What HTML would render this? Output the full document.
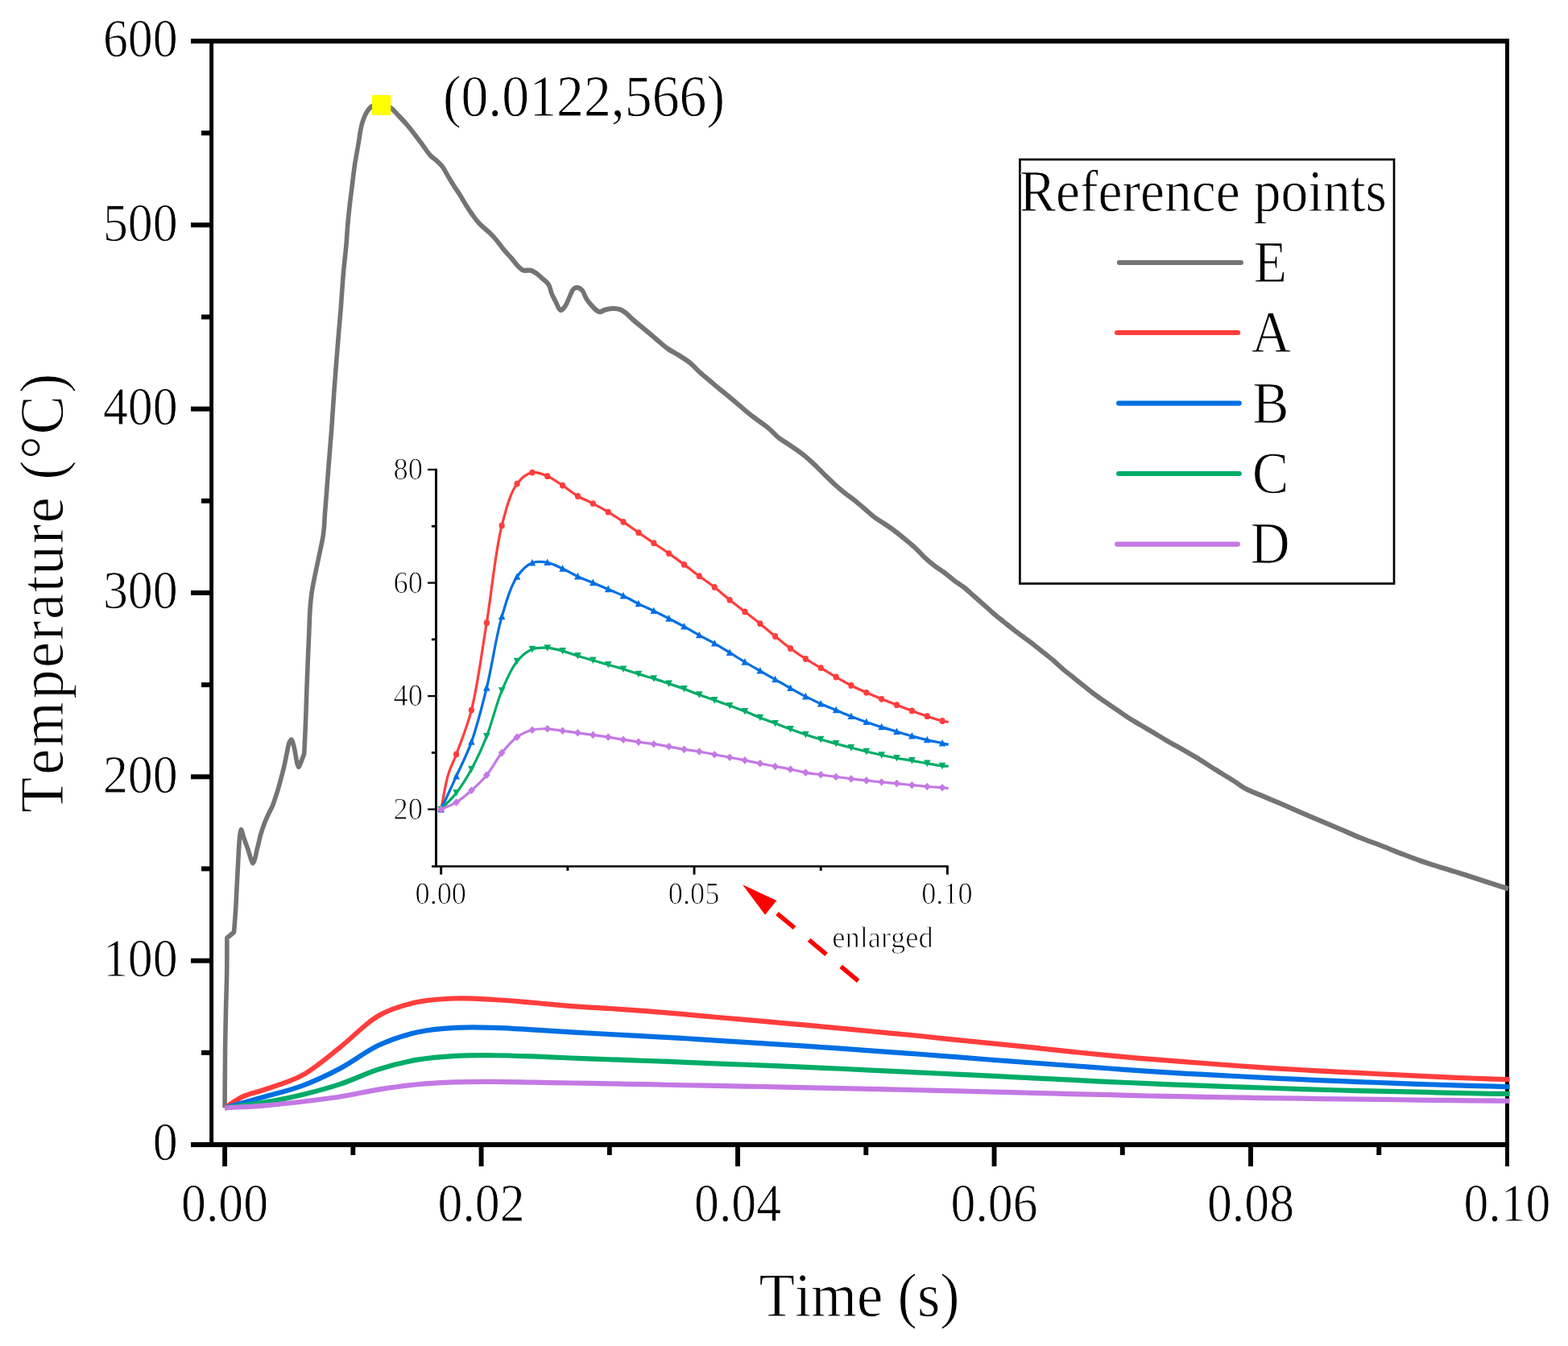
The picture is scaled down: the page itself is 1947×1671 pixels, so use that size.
<!DOCTYPE html>
<html lang="en">
<head>
<meta charset="utf-8">
<title>Temperature vs Time at reference points</title>
<style>html,body{margin:0;padding:0;background:#fff}svg{display:block}text{font-kerning:none;font-variant-ligatures:none;text-rendering:geometricPrecision;white-space:pre;stroke:#fff;stroke-width:.9px;stroke-linejoin:round}text.s{stroke-width:.5px}</style>
</head>
<body>
<svg xmlns="http://www.w3.org/2000/svg" width="1947" height="1671" viewBox="0 0 1947 1671" font-family='"Liberation Serif", "Noto Serif CJK SC", serif'>
<rect width="1947" height="1671" fill="#fff"/>
<rect x="237.00" y="48.00" width="1636.95" height="6.00" fill="#000"/>
<rect x="237.00" y="1418.00" width="1636.95" height="6.10" fill="#000"/>
<rect x="260.15" y="48.00" width="4.90" height="1376.00" fill="#000"/>
<rect x="1869.05" y="48.00" width="4.90" height="1400.00" fill="#000"/>
<rect x="237.00" y="1418.00" width="25.60" height="6.00" fill="#000"/>
<rect x="250.00" y="1303.83" width="12.60" height="6.00" fill="#000"/>
<rect x="237.00" y="1189.67" width="25.60" height="6.00" fill="#000"/>
<rect x="250.00" y="1075.50" width="12.60" height="6.00" fill="#000"/>
<rect x="237.00" y="961.33" width="25.60" height="6.00" fill="#000"/>
<rect x="250.00" y="847.17" width="12.60" height="6.00" fill="#000"/>
<rect x="237.00" y="733.00" width="25.60" height="6.00" fill="#000"/>
<rect x="250.00" y="618.83" width="12.60" height="6.00" fill="#000"/>
<rect x="237.00" y="504.67" width="25.60" height="6.00" fill="#000"/>
<rect x="250.00" y="390.50" width="12.60" height="6.00" fill="#000"/>
<rect x="237.00" y="276.33" width="25.60" height="6.00" fill="#000"/>
<rect x="250.00" y="162.17" width="12.60" height="6.00" fill="#000"/>
<rect x="237.00" y="48.00" width="25.60" height="6.00" fill="#000"/>
<rect x="276.15" y="1421.00" width="5.90" height="27.00" fill="#000"/>
<rect x="435.39" y="1421.00" width="5.90" height="13.00" fill="#000"/>
<rect x="594.63" y="1421.00" width="5.90" height="27.00" fill="#000"/>
<rect x="753.87" y="1421.00" width="5.90" height="13.00" fill="#000"/>
<rect x="913.11" y="1421.00" width="5.90" height="27.00" fill="#000"/>
<rect x="1072.35" y="1421.00" width="5.90" height="13.00" fill="#000"/>
<rect x="1231.59" y="1421.00" width="5.90" height="27.00" fill="#000"/>
<rect x="1390.83" y="1421.00" width="5.90" height="13.00" fill="#000"/>
<rect x="1550.07" y="1421.00" width="5.90" height="27.00" fill="#000"/>
<rect x="1709.31" y="1421.00" width="5.90" height="13.00" fill="#000"/>
<g transform="scale(0.9,1)" fill="none" stroke-width="6.2" stroke-linejoin="round">
<path d="M310.11,1375.30C310.30,1350.20 310.33,1322.54 310.67,1300.00C310.94,1281.63 311.37,1266.13 311.78,1250.00C312.16,1234.86 312.76,1220.45 313.00,1206.00C313.23,1191.97 313.15,1178.33 313.22,1164.50C316.41,1162.07 319.59,1159.63 322.78,1157.20C323.26,1152.07 323.78,1147.17 324.22,1141.80C324.71,1135.92 325.14,1129.91 325.56,1123.30C326.04,1115.66 326.43,1106.82 326.89,1098.60C327.35,1090.39 327.86,1081.99 328.33,1074.00C328.78,1066.41 329.17,1058.45 329.67,1051.80C330.07,1046.36 330.31,1040.96 331.00,1037.00C331.48,1034.27 332.01,1030.23 332.78,1030.20C333.75,1030.16 335.14,1036.99 336.56,1040.70C338.17,1044.93 340.29,1049.67 342.00,1054.20C343.70,1058.71 345.38,1064.73 346.78,1067.80C347.54,1069.47 348.15,1071.51 348.89,1071.50C349.73,1071.49 350.77,1068.62 351.56,1066.60C352.69,1063.70 353.38,1059.09 354.33,1055.50C355.24,1052.10 356.20,1048.90 357.11,1045.60C358.02,1042.30 358.62,1039.29 359.78,1035.70C361.21,1031.25 363.38,1025.51 365.33,1021.00C367.07,1017.00 368.92,1013.47 370.78,1009.90C372.55,1006.48 374.73,1003.23 376.22,1000.00C377.56,997.11 378.29,994.63 379.44,991.50C380.85,987.67 382.57,983.04 384.00,978.70C385.46,974.28 386.77,969.81 388.11,965.20C389.51,960.39 390.96,955.35 392.22,950.40C393.48,945.48 394.49,940.42 395.67,935.60C396.79,930.97 397.57,925.00 399.11,922.00C400.01,920.24 401.30,918.15 402.22,918.30C403.41,918.49 404.34,922.88 405.22,925.70C406.34,929.26 407.17,934.21 408.00,938.10C408.74,941.55 409.13,945.34 410.00,947.90C410.60,949.67 411.31,952.19 412.11,952.20C413.11,952.21 414.41,947.98 415.56,945.50C416.93,942.55 418.30,938.90 419.67,935.60C420.11,927.37 420.59,919.13 421.00,910.90C421.41,902.69 421.78,894.51 422.11,886.30C422.44,878.08 422.68,869.82 423.00,861.60C423.31,853.39 423.65,845.21 424.00,837.00C424.35,828.77 424.72,820.75 425.11,812.30C425.53,803.40 426.03,793.80 426.44,784.90C426.84,776.45 427.04,767.82 427.56,760.20C428.00,753.61 428.45,747.71 429.22,741.80C429.95,736.24 430.96,730.94 432.00,725.70C433.00,720.65 434.20,715.83 435.33,710.90C436.46,705.96 437.63,701.02 438.78,696.10C439.92,691.19 441.11,686.21 442.22,681.40C443.29,676.78 444.53,672.24 445.33,667.80C446.09,663.61 446.53,660.03 447.00,655.50C447.57,649.97 447.83,643.16 448.33,637.00C448.83,630.83 449.46,624.67 450.00,618.50C450.54,612.33 450.95,607.15 451.56,600.00C452.39,590.16 453.56,576.22 454.56,564.90C455.49,554.30 456.48,544.37 457.33,534.10C458.18,523.84 458.87,513.57 459.67,503.30C460.46,493.01 461.26,482.69 462.11,472.40C462.96,462.12 463.87,451.87 464.78,441.60C465.69,431.33 466.62,420.80 467.56,410.80C468.44,401.29 469.32,393.27 470.22,383.00C471.34,370.27 472.35,353.93 473.67,340.20C474.89,327.43 476.71,314.38 477.78,303.30C478.65,294.25 478.98,286.82 479.78,278.60C480.57,270.39 481.52,262.20 482.56,254.00C483.59,245.77 484.85,237.52 486.00,229.30C487.15,221.09 488.08,212.89 489.44,204.70C490.82,196.46 492.60,188.34 494.22,180.00C495.89,171.44 496.98,161.37 499.33,154.00C501.19,148.19 503.43,142.88 506.11,139.00C508.19,135.99 510.12,133.52 513.11,132.00C516.56,130.25 521.80,129.67 526.11,130.00C530.54,130.34 535.41,131.96 539.33,134.20C543.26,136.43 546.21,140.20 549.67,143.40C553.28,146.75 556.98,150.19 560.56,153.90C564.29,157.77 567.93,162.01 571.56,166.20C575.23,170.44 578.82,174.81 582.44,179.20C586.12,183.65 589.84,189.22 593.44,192.70C596.22,195.37 598.97,196.68 601.67,198.90C604.46,201.20 607.32,203.33 609.89,206.30C612.86,209.73 615.37,214.50 618.11,218.60C620.85,222.70 623.54,226.94 626.33,230.90C629.03,234.73 631.86,238.16 634.56,242.00C637.35,245.98 639.98,250.42 642.78,254.40C645.47,258.24 648.20,261.96 651.00,265.50C653.69,268.91 656.37,272.35 659.22,275.30C661.87,278.04 664.54,280.25 667.44,282.70C670.55,285.32 674.15,287.64 677.33,290.50C680.65,293.48 683.76,296.88 686.89,300.30C690.13,303.84 693.18,307.89 696.44,311.40C699.59,314.78 703.04,317.79 706.11,321.00C709.06,324.09 711.76,327.77 714.56,330.30C716.86,332.39 718.71,334.44 721.44,335.40C724.55,336.49 729.28,335.05 732.44,335.80C735.05,336.42 736.93,337.53 739.22,338.90C741.92,340.51 744.64,342.80 747.44,345.10C750.59,347.68 754.80,350.32 757.11,353.70C759.32,356.93 759.60,361.27 761.22,364.80C762.80,368.23 764.91,371.43 766.67,374.60C768.32,377.58 769.85,381.58 771.44,383.30C772.37,384.29 773.26,385.12 774.22,385.10C775.29,385.07 776.47,383.78 777.56,382.70C778.97,381.30 780.39,379.23 781.67,377.10C783.16,374.60 784.39,371.31 785.78,368.50C787.13,365.78 788.39,362.45 789.89,360.50C790.97,359.10 791.89,357.90 793.33,357.40C795.01,356.82 797.79,357.11 799.56,357.80C801.18,358.43 802.35,359.54 803.67,361.10C805.59,363.38 807.02,367.88 809.11,370.90C811.15,373.84 813.63,376.56 816.00,379.00C818.20,381.26 820.61,383.70 822.78,385.10C824.42,386.16 825.77,387.14 827.56,387.20C829.77,387.28 832.41,385.19 835.11,384.50C838.08,383.74 841.36,383.06 844.67,383.00C848.20,382.93 852.36,383.23 855.67,384.30C858.71,385.29 861.19,387.02 863.89,388.90C866.90,391.00 869.31,393.73 872.78,396.50C877.37,400.16 884.38,405.08 889.22,408.70C893.07,411.58 896.21,413.93 899.56,416.50C902.76,418.96 905.53,421.25 908.89,423.80C912.74,426.72 917.03,430.23 921.44,433.00C925.92,435.81 930.75,437.77 935.56,440.50C940.73,443.44 946.49,446.52 951.44,450.10C956.33,453.63 960.51,458.06 965.11,461.80C969.62,465.46 974.21,468.80 978.78,472.30C983.36,475.80 987.95,479.38 992.56,482.80C997.10,486.18 1001.69,489.33 1006.22,492.70C1010.80,496.10 1015.34,499.62 1019.89,503.10C1024.45,506.59 1028.94,510.27 1033.56,513.60C1038.09,516.87 1042.75,519.81 1047.33,522.90C1051.90,525.98 1056.54,528.71 1061.00,532.10C1065.66,535.64 1069.94,540.45 1074.67,543.80C1079.11,546.95 1083.89,549.04 1088.44,551.80C1093.03,554.58 1097.98,557.70 1102.11,560.40C1105.60,562.69 1108.29,564.37 1111.67,566.90C1115.76,569.97 1120.39,573.93 1124.78,577.70C1129.36,581.64 1133.95,586.05 1138.56,590.10C1143.10,594.09 1147.61,598.08 1152.22,601.80C1156.73,605.44 1161.29,608.89 1165.89,612.20C1170.40,615.45 1175.03,618.24 1179.56,621.50C1184.18,624.83 1188.75,628.50 1193.33,632.00C1197.90,635.50 1202.34,639.37 1207.00,642.50C1211.46,645.50 1216.13,647.75 1220.67,650.50C1225.24,653.28 1229.81,656.06 1234.33,659.10C1238.96,662.22 1243.55,665.63 1248.11,669.00C1252.70,672.39 1257.30,675.68 1261.78,679.40C1266.42,683.26 1270.80,687.94 1275.44,691.80C1279.92,695.52 1284.47,698.98 1289.11,702.20C1293.63,705.34 1298.35,707.84 1302.89,710.90C1307.50,714.01 1311.96,717.59 1316.56,720.70C1321.07,723.75 1325.73,726.22 1330.22,729.40C1334.89,732.70 1339.39,736.56 1344.00,740.20C1348.68,743.89 1353.44,747.67 1358.11,751.40C1362.74,755.10 1367.26,758.96 1371.89,762.50C1376.41,765.95 1381.00,769.11 1385.56,772.40C1390.11,775.68 1394.65,779.00 1399.22,782.20C1403.76,785.37 1408.32,788.42 1412.89,791.50C1417.47,794.59 1422.11,797.53 1426.67,800.70C1431.26,803.90 1435.78,807.30 1440.33,810.60C1444.89,813.90 1449.49,817.04 1454.00,820.50C1458.60,824.03 1463.04,828.09 1467.67,831.60C1472.20,835.04 1476.87,838.12 1481.44,841.40C1486.02,844.68 1490.55,848.01 1495.11,851.30C1499.66,854.58 1504.18,857.99 1508.78,861.10C1513.29,864.15 1517.87,866.93 1522.44,869.80C1527.02,872.67 1531.64,875.46 1536.22,878.30C1540.79,881.13 1545.31,884.04 1549.89,886.80C1554.43,889.54 1558.96,892.26 1563.56,894.80C1568.11,897.32 1572.76,899.58 1577.33,902.00C1581.90,904.41 1586.22,906.71 1591.00,909.30C1596.31,912.18 1602.36,915.66 1607.78,918.50C1612.78,921.12 1616.73,922.94 1622.33,925.80C1630.06,929.75 1640.68,935.17 1649.78,940.10C1658.94,945.07 1667.99,950.37 1677.11,955.50C1686.25,960.64 1697.01,966.55 1704.56,970.90C1709.92,973.99 1713.09,976.50 1718.22,979.00C1724.27,981.95 1731.42,984.18 1738.78,987.00C1747.26,990.26 1757.16,993.91 1766.22,997.40C1775.16,1000.84 1783.69,1004.26 1792.78,1007.80C1802.34,1011.52 1812.57,1015.50 1822.22,1019.20C1831.52,1022.76 1840.53,1026.11 1849.67,1029.60C1858.79,1033.08 1867.85,1036.79 1877.00,1040.10C1886.11,1043.39 1895.32,1046.22 1904.44,1049.40C1913.58,1052.58 1922.64,1056.02 1931.78,1059.20C1940.90,1062.38 1950.05,1065.61 1959.22,1068.50C1968.31,1071.37 1977.42,1073.93 1986.56,1076.50C1995.68,1079.07 2004.87,1081.33 2014.00,1083.90C2023.13,1086.47 2032.21,1089.24 2041.33,1091.90C2050.47,1094.57 2061.43,1097.82 2068.78,1099.90C2073.69,1101.29 2077.00,1102.17 2081.11,1103.30" stroke="#747474"/>
<path d="M310.11,1375.33C318.37,1370.69 326.13,1365.08 334.88,1361.40C343.80,1357.66 352.32,1356.58 363.19,1353.18C378.17,1348.49 399.11,1343.74 416.27,1335.34C434.57,1326.39 451.81,1312.41 469.35,1300.12C487.21,1287.61 503.92,1270.33 522.43,1260.88C539.43,1252.20 557.62,1247.61 575.51,1244.05C593.01,1240.57 610.88,1240.01 628.59,1239.50C646.27,1239.00 663.99,1240.13 681.67,1241.00C699.37,1241.87 717.06,1243.39 734.75,1244.73C752.45,1246.08 770.13,1247.84 787.83,1249.05C805.52,1250.27 823.22,1250.94 840.91,1252.01C858.61,1253.08 876.30,1254.22 893.99,1255.45C911.69,1256.69 929.38,1258.04 947.07,1259.42C964.77,1260.80 982.46,1262.31 1000.15,1263.74C1017.84,1265.16 1035.54,1266.56 1053.23,1267.96C1070.92,1269.36 1088.62,1270.71 1106.31,1272.15C1124.01,1273.60 1141.70,1275.11 1159.39,1276.64C1177.09,1278.16 1194.78,1279.76 1212.47,1281.28C1230.16,1282.80 1247.86,1284.16 1265.55,1285.77C1283.25,1287.37 1300.93,1289.25 1318.63,1290.90C1336.32,1292.54 1354.02,1294.05 1371.71,1295.64C1389.40,1297.23 1407.10,1298.79 1424.79,1300.45C1442.49,1302.11 1460.18,1303.91 1477.87,1305.58C1495.56,1307.25 1513.25,1308.94 1530.95,1310.46C1548.64,1311.97 1566.33,1313.37 1584.03,1314.68C1601.72,1315.99 1619.42,1317.10 1637.11,1318.32C1654.80,1319.54 1672.50,1320.81 1690.19,1321.99C1707.88,1323.17 1725.58,1324.35 1743.27,1325.40C1760.96,1326.44 1778.66,1327.35 1796.35,1328.26C1814.04,1329.17 1831.74,1330.02 1849.43,1330.86C1867.12,1331.69 1884.82,1332.47 1902.51,1333.26C1920.20,1334.05 1937.90,1334.84 1955.59,1335.60C1973.28,1336.36 1990.98,1337.13 2008.67,1337.81C2026.36,1338.49 2048.04,1339.30 2061.75,1339.69C2070.42,1339.94 2075.91,1340.00 2082.98,1340.15" stroke="#FF3D3D"/>
<path d="M310.11,1375.33C327.80,1370.90 345.51,1366.57 363.19,1362.05C380.90,1357.52 398.77,1354.02 416.27,1348.17C434.17,1342.19 451.88,1334.66 469.35,1326.37C487.27,1317.88 504.35,1305.20 522.43,1297.66C539.77,1290.43 557.64,1285.19 575.51,1281.57C593.04,1278.02 610.87,1276.91 628.59,1275.95C646.26,1275.00 663.98,1275.43 681.67,1275.82C699.37,1276.21 717.06,1277.36 734.75,1278.29C752.45,1279.23 770.14,1280.50 787.83,1281.44C805.52,1282.39 823.22,1283.12 840.91,1283.98C858.60,1284.83 876.30,1285.70 893.99,1286.58C911.68,1287.45 929.38,1288.26 947.07,1289.24C964.77,1290.22 982.46,1291.44 1000.15,1292.46C1017.84,1293.47 1035.54,1294.32 1053.23,1295.32C1070.93,1296.31 1088.62,1297.38 1106.31,1298.44C1124.00,1299.49 1141.70,1300.50 1159.39,1301.62C1177.09,1302.73 1194.78,1303.99 1212.47,1305.13C1230.16,1306.27 1247.86,1307.30 1265.55,1308.47C1283.25,1309.64 1300.94,1310.89 1318.63,1312.15C1336.33,1313.40 1354.02,1314.75 1371.71,1315.98C1389.40,1317.21 1407.10,1318.35 1424.79,1319.52C1442.48,1320.69 1460.18,1321.83 1477.87,1323.00C1495.56,1324.16 1513.26,1325.36 1530.95,1326.50C1548.64,1327.65 1566.34,1328.80 1584.03,1329.85C1601.72,1330.90 1619.42,1331.89 1637.11,1332.81C1654.80,1333.72 1672.50,1334.50 1690.19,1335.34C1707.88,1336.19 1725.58,1337.07 1743.27,1337.88C1760.96,1338.68 1778.66,1339.43 1796.35,1340.15C1814.04,1340.86 1831.74,1341.52 1849.43,1342.16C1867.12,1342.81 1884.82,1343.40 1902.51,1344.02C1920.20,1344.63 1937.90,1345.28 1955.59,1345.83C1973.28,1346.39 1990.98,1346.89 2008.67,1347.36C2026.36,1347.84 2048.04,1348.34 2061.75,1348.69C2070.42,1348.92 2075.91,1349.06 2082.98,1349.25" stroke="#006FE3"/>
<path d="M310.11,1375.33C327.80,1373.14 345.53,1371.42 363.19,1368.74C380.92,1366.04 398.64,1362.98 416.27,1359.19C434.03,1355.37 451.77,1351.13 469.35,1345.90C487.16,1340.60 504.59,1332.58 522.43,1327.51C539.98,1322.53 557.73,1318.44 575.51,1315.65C593.12,1312.89 610.88,1311.68 628.59,1310.78C646.27,1309.88 663.98,1310.15 681.67,1310.26C699.37,1310.37 717.06,1310.93 734.75,1311.46C752.45,1312.00 770.14,1312.84 787.83,1313.48C805.52,1314.11 823.22,1314.67 840.91,1315.26C858.60,1315.85 876.30,1316.43 893.99,1317.02C911.68,1317.61 929.38,1318.17 947.07,1318.80C964.77,1319.44 982.46,1320.19 1000.15,1320.82C1017.84,1321.45 1035.54,1321.96 1053.23,1322.61C1070.93,1323.25 1088.62,1323.99 1106.31,1324.69C1124.00,1325.38 1141.70,1326.02 1159.39,1326.76C1177.09,1327.51 1194.78,1328.37 1212.47,1329.14C1230.16,1329.90 1247.86,1330.61 1265.55,1331.35C1283.24,1332.08 1300.94,1332.81 1318.63,1333.55C1336.32,1334.30 1354.02,1335.03 1371.71,1335.83C1389.41,1336.63 1407.10,1337.55 1424.79,1338.36C1442.48,1339.17 1460.18,1339.92 1477.87,1340.70C1495.56,1341.48 1513.26,1342.29 1530.95,1343.04C1548.64,1343.79 1566.34,1344.53 1584.03,1345.22C1601.72,1345.90 1619.42,1346.55 1637.11,1347.17C1654.80,1347.78 1672.50,1348.33 1690.19,1348.89C1707.88,1349.45 1725.58,1349.99 1743.27,1350.51C1760.96,1351.04 1778.66,1351.54 1796.35,1352.04C1814.04,1352.54 1831.74,1353.06 1849.43,1353.50C1867.12,1353.95 1884.82,1354.34 1902.51,1354.70C1920.20,1355.07 1937.90,1355.35 1955.59,1355.71C1973.28,1356.07 1990.98,1356.49 2008.67,1356.85C2026.36,1357.21 2048.04,1357.70 2061.75,1357.86C2070.42,1357.95 2075.91,1357.90 2082.98,1357.92" stroke="#00AC67"/>
<path d="M310.11,1375.33C327.80,1374.40 345.51,1373.81 363.19,1372.54C380.90,1371.27 398.59,1369.57 416.27,1367.73C433.98,1365.89 451.69,1364.05 469.35,1361.53C487.08,1358.99 504.71,1355.11 522.43,1352.56C540.09,1350.02 557.79,1347.76 575.51,1346.22C593.18,1344.70 610.89,1343.92 628.59,1343.37C646.28,1342.81 663.98,1342.82 681.67,1342.88C699.36,1342.93 717.06,1343.42 734.75,1343.69C752.44,1343.96 770.14,1344.23 787.83,1344.50C805.52,1344.78 823.22,1345.06 840.91,1345.35C858.60,1345.63 876.30,1345.91 893.99,1346.22C911.68,1346.54 929.38,1346.91 947.07,1347.23C964.76,1347.56 982.46,1347.88 1000.15,1348.17C1017.84,1348.47 1035.54,1348.71 1053.23,1349.02C1070.92,1349.33 1088.62,1349.66 1106.31,1350.03C1124.00,1350.39 1141.70,1350.86 1159.39,1351.20C1177.08,1351.53 1194.78,1351.70 1212.47,1352.04C1230.17,1352.38 1247.86,1352.85 1265.55,1353.24C1283.24,1353.63 1300.94,1353.99 1318.63,1354.38C1336.32,1354.77 1354.02,1355.17 1371.71,1355.58C1389.40,1355.99 1407.10,1356.44 1424.79,1356.85C1442.48,1357.26 1460.18,1357.66 1477.87,1358.05C1495.56,1358.44 1513.26,1358.78 1530.95,1359.19C1548.64,1359.60 1566.34,1360.15 1584.03,1360.52C1601.72,1360.89 1619.42,1361.11 1637.11,1361.40C1654.80,1361.68 1672.50,1361.96 1690.19,1362.24C1707.88,1362.52 1725.58,1362.81 1743.27,1363.05C1760.96,1363.30 1778.66,1363.48 1796.35,1363.70C1814.04,1363.92 1831.74,1364.18 1849.43,1364.39C1867.12,1364.59 1884.82,1364.70 1902.51,1364.90C1920.20,1365.11 1937.90,1365.38 1955.59,1365.59C1973.28,1365.80 1990.98,1366.00 2008.67,1366.17C2026.36,1366.34 2048.04,1366.46 2061.75,1366.59C2070.42,1366.68 2075.91,1366.77 2082.98,1366.85" stroke="#C478E4"/>
</g>
<rect x="462.00" y="118.00" width="23.30" height="25.00" fill="#FFFF00"/>
<text transform="translate(189.74,1440.20) scale(0.9270,1)" font-size="66.7" fill="#000" >0</text>
<text transform="translate(127.91,1211.87) scale(0.9270,1)" font-size="66.7" fill="#000" >100</text>
<text transform="translate(127.91,983.53) scale(0.9270,1)" font-size="66.7" fill="#000" >200</text>
<text transform="translate(127.91,755.20) scale(0.9270,1)" font-size="66.7" fill="#000" >300</text>
<text transform="translate(127.91,526.87) scale(0.9270,1)" font-size="66.7" fill="#000" >400</text>
<text transform="translate(127.91,298.53) scale(0.9270,1)" font-size="66.7" fill="#000" >500</text>
<text transform="translate(127.91,70.20) scale(0.9270,1)" font-size="66.7" fill="#000" >600</text>
<text transform="translate(225.11,1516.2) scale(0.925,1)" font-size="66.7">0.00</text>
<text transform="translate(543.59,1516.2) scale(0.925,1)" font-size="66.7">0.02</text>
<text transform="translate(862.07,1516.2) scale(0.925,1)" font-size="66.7">0.04</text>
<text transform="translate(1180.55,1516.2) scale(0.925,1)" font-size="66.7">0.06</text>
<text transform="translate(1499.03,1516.2) scale(0.925,1)" font-size="66.7">0.08</text>
<text transform="translate(1817.51,1516.2) scale(0.925,1)" font-size="66.7">0.10</text>
<text transform="translate(942.38,1634.30) scale(0.9415,1)" font-size="77.5" fill="#000" >Time (s)</text>
<text transform="translate(77.50,1008.90) rotate(-90) scale(0.9300,1)" x="0.00 50.65 87.46 151.96 193.43 230.23 257.85 294.65 317.69 359.16 386.77 423.58 444.31 471.92 505.08 560.40" y="0" font-size="77.5" fill="#000">Temperature (°C)</text>
<text transform="translate(549.92,144.20) scale(0.9282,1)" font-size="73" fill="#000" >(0.0122,566)</text>
<rect x="1266.4" y="198.0" width="464.6" height="526.5" fill="#fff" stroke="#000" stroke-width="2.7"/>
<text transform="translate(1266.05,261.50) scale(0.9191,1)" font-size="73.5" fill="#000" >Reference points</text>
<line x1="1389.9" y1="326.0" x2="1540.9" y2="326.0" stroke="#747474" stroke-width="6.1" stroke-linecap="round"/>
<text transform="translate(1556.65,350.10) scale(0.9200,1)" font-size="73.5" fill="#000" >E</text>
<line x1="1387.0" y1="413.0" x2="1537.2" y2="413.0" stroke="#FF3D3D" stroke-width="6.1" stroke-linecap="round"/>
<text transform="translate(1553.94,437.30) scale(0.9200,1)" font-size="73.5" fill="#000" >A</text>
<line x1="1389.1" y1="500.6" x2="1538.8" y2="500.6" stroke="#006FE3" stroke-width="6.1" stroke-linecap="round"/>
<text transform="translate(1555.35,524.60) scale(0.9200,1)" font-size="73.5" fill="#000" >B</text>
<line x1="1389.1" y1="588.0" x2="1538.8" y2="588.0" stroke="#00AC67" stroke-width="6.1" stroke-linecap="round"/>
<text transform="translate(1555.03,611.80) scale(0.9200,1)" font-size="73.5" fill="#000" >C</text>
<line x1="1387.1" y1="675.6" x2="1536.9" y2="675.6" stroke="#C478E4" stroke-width="6.1" stroke-linecap="round"/>
<text transform="translate(1552.65,699.00) scale(0.9200,1)" font-size="73.5" fill="#000" >D</text>
<path d="M547.70,1004.70C550.63,990.41 552.83,974.11 556.50,961.83C559.40,952.13 562.82,946.61 566.56,936.50C572.02,921.75 579.86,903.24 585.42,881.60C593.08,851.80 598.15,810.34 604.28,773.20C610.74,734.05 615.02,683.96 623.14,652.40C628.60,631.21 633.69,611.75 642.00,600.60C647.43,593.32 654.25,587.94 660.87,586.60C666.88,585.38 673.63,588.67 679.73,591.20C686.23,593.90 692.37,598.62 698.59,602.70C704.95,606.87 711.00,612.21 717.45,616.00C723.59,619.61 730.07,621.85 736.31,625.10C742.65,628.41 748.94,631.94 755.17,635.70C761.52,639.53 767.79,643.68 774.03,647.90C780.36,652.18 786.59,656.81 792.89,661.20C799.17,665.58 805.46,669.88 811.75,674.20C818.04,678.51 824.36,682.68 830.62,687.10C836.94,691.57 843.21,696.23 849.48,700.90C855.78,705.60 862.03,710.50 868.34,715.20C874.60,719.87 880.99,724.14 887.20,729.00C893.57,733.99 899.72,739.70 906.06,744.80C912.30,749.82 918.64,754.51 924.92,759.40C931.22,764.31 937.53,769.13 943.78,774.20C950.11,779.33 956.32,784.84 962.64,790.00C968.90,795.11 975.13,800.28 981.50,805.00C987.71,809.60 994.01,813.93 1000.36,818.00C1006.58,821.98 1012.94,825.45 1019.23,829.20C1025.52,832.95 1031.77,836.85 1038.09,840.50C1044.34,844.12 1050.60,847.76 1056.95,851.00C1063.18,854.18 1069.50,856.99 1075.81,859.80C1082.07,862.59 1088.36,865.23 1094.67,867.80C1100.94,870.36 1107.24,872.76 1113.53,875.20C1119.81,877.63 1126.09,880.06 1132.39,882.40C1138.67,884.73 1144.94,887.09 1151.25,889.20C1157.51,891.29 1165.21,893.80 1170.11,895.00C1173.17,895.75 1175.14,895.93 1177.66,896.40" fill="none" stroke="#FF3D3D" stroke-width="3.2" stroke-linejoin="round"/>
<g fill="#FF3D3D"><ellipse cx="547.7" cy="1004.9" rx="3.6" ry="3.9"/><ellipse cx="566.6" cy="936.5" rx="3.6" ry="3.9"/><ellipse cx="585.4" cy="881.6" rx="3.6" ry="3.9"/><ellipse cx="604.3" cy="773.2" rx="3.6" ry="3.9"/><ellipse cx="623.1" cy="652.4" rx="3.6" ry="3.9"/><ellipse cx="642.0" cy="600.6" rx="3.6" ry="3.9"/><ellipse cx="660.9" cy="586.6" rx="3.6" ry="3.9"/><ellipse cx="679.7" cy="591.2" rx="3.6" ry="3.9"/><ellipse cx="698.6" cy="602.7" rx="3.6" ry="3.9"/><ellipse cx="717.4" cy="616.0" rx="3.6" ry="3.9"/><ellipse cx="736.3" cy="625.1" rx="3.6" ry="3.9"/><ellipse cx="755.2" cy="635.7" rx="3.6" ry="3.9"/><ellipse cx="774.0" cy="647.9" rx="3.6" ry="3.9"/><ellipse cx="792.9" cy="661.2" rx="3.6" ry="3.9"/><ellipse cx="811.8" cy="674.2" rx="3.6" ry="3.9"/><ellipse cx="830.6" cy="687.1" rx="3.6" ry="3.9"/><ellipse cx="849.5" cy="700.9" rx="3.6" ry="3.9"/><ellipse cx="868.3" cy="715.2" rx="3.6" ry="3.9"/><ellipse cx="887.2" cy="729.0" rx="3.6" ry="3.9"/><ellipse cx="906.1" cy="744.8" rx="3.6" ry="3.9"/><ellipse cx="924.9" cy="759.4" rx="3.6" ry="3.9"/><ellipse cx="943.8" cy="774.2" rx="3.6" ry="3.9"/><ellipse cx="962.6" cy="790.0" rx="3.6" ry="3.9"/><ellipse cx="981.5" cy="805.0" rx="3.6" ry="3.9"/><ellipse cx="1000.4" cy="818.0" rx="3.6" ry="3.9"/><ellipse cx="1019.2" cy="829.2" rx="3.6" ry="3.9"/><ellipse cx="1038.1" cy="840.5" rx="3.6" ry="3.9"/><ellipse cx="1056.9" cy="851.0" rx="3.6" ry="3.9"/><ellipse cx="1075.8" cy="859.8" rx="3.6" ry="3.9"/><ellipse cx="1094.7" cy="867.8" rx="3.6" ry="3.9"/><ellipse cx="1113.5" cy="875.2" rx="3.6" ry="3.9"/><ellipse cx="1132.4" cy="882.4" rx="3.6" ry="3.9"/><ellipse cx="1151.3" cy="889.2" rx="3.6" ry="3.9"/><ellipse cx="1170.1" cy="895.0" rx="3.6" ry="3.9"/></g>
<path d="M547.70,1004.70C553.99,991.07 560.33,977.61 566.56,963.80C572.91,949.75 579.65,937.17 585.42,921.10C592.48,901.47 598.35,878.01 604.28,854.00C611.03,826.66 615.77,790.58 623.14,765.60C628.79,746.47 634.09,727.76 642.00,716.10C647.51,708.00 654.02,701.55 660.87,698.80C666.74,696.44 673.55,697.27 679.73,698.40C686.14,699.57 692.37,703.15 698.59,706.00C704.94,708.91 711.10,712.76 717.45,715.70C723.68,718.58 730.03,720.87 736.31,723.50C742.60,726.14 748.89,728.80 755.17,731.50C761.46,734.20 767.80,736.71 774.03,739.70C780.38,742.74 786.57,746.47 792.89,749.60C799.14,752.70 805.49,755.35 811.75,758.40C818.07,761.48 824.33,764.77 830.62,768.00C836.91,771.24 843.22,774.39 849.48,777.80C855.80,781.25 862.03,785.07 868.34,788.60C874.61,792.11 880.95,795.32 887.20,798.90C893.52,802.52 899.79,806.36 906.06,810.20C912.36,814.06 918.60,818.20 924.92,822.00C931.17,825.76 937.49,829.30 943.78,832.90C950.06,836.50 956.36,840.02 962.64,843.60C968.93,847.19 975.20,850.87 981.50,854.40C987.77,857.91 994.04,861.45 1000.36,864.70C1006.61,867.91 1012.90,870.97 1019.23,873.80C1025.47,876.60 1031.80,879.00 1038.09,881.60C1044.37,884.20 1050.64,886.93 1056.95,889.40C1063.21,891.86 1069.50,894.19 1075.81,896.40C1082.07,898.59 1088.37,900.61 1094.67,902.60C1100.94,904.58 1107.24,906.42 1113.53,908.30C1119.81,910.18 1126.08,912.18 1132.39,913.90C1138.66,915.61 1144.95,917.13 1151.25,918.60C1157.53,920.06 1165.24,921.62 1170.11,922.70C1173.20,923.38 1175.14,923.83 1177.66,924.40" fill="none" stroke="#006FE3" stroke-width="3.2" stroke-linejoin="round"/>
<g fill="#006FE3"><path d="M547.7,1000.0l4.3,8.6h-8.6z"/><path d="M566.6,958.9l4.3,8.6h-8.6z"/><path d="M585.4,916.2l4.3,8.6h-8.6z"/><path d="M604.3,849.1l4.3,8.6h-8.6z"/><path d="M623.1,760.7l4.3,8.6h-8.6z"/><path d="M642.0,711.2l4.3,8.6h-8.6z"/><path d="M660.9,693.9l4.3,8.6h-8.6z"/><path d="M679.7,693.5l4.3,8.6h-8.6z"/><path d="M698.6,701.1l4.3,8.6h-8.6z"/><path d="M717.4,710.8l4.3,8.6h-8.6z"/><path d="M736.3,718.6l4.3,8.6h-8.6z"/><path d="M755.2,726.6l4.3,8.6h-8.6z"/><path d="M774.0,734.8l4.3,8.6h-8.6z"/><path d="M792.9,744.7l4.3,8.6h-8.6z"/><path d="M811.8,753.5l4.3,8.6h-8.6z"/><path d="M830.6,763.1l4.3,8.6h-8.6z"/><path d="M849.5,772.9l4.3,8.6h-8.6z"/><path d="M868.3,783.7l4.3,8.6h-8.6z"/><path d="M887.2,794.0l4.3,8.6h-8.6z"/><path d="M906.1,805.3l4.3,8.6h-8.6z"/><path d="M924.9,817.1l4.3,8.6h-8.6z"/><path d="M943.8,828.0l4.3,8.6h-8.6z"/><path d="M962.6,838.7l4.3,8.6h-8.6z"/><path d="M981.5,849.5l4.3,8.6h-8.6z"/><path d="M1000.4,859.8l4.3,8.6h-8.6z"/><path d="M1019.2,868.9l4.3,8.6h-8.6z"/><path d="M1038.1,876.7l4.3,8.6h-8.6z"/><path d="M1056.9,884.5l4.3,8.6h-8.6z"/><path d="M1075.8,891.5l4.3,8.6h-8.6z"/><path d="M1094.7,897.7l4.3,8.6h-8.6z"/><path d="M1113.5,903.4l4.3,8.6h-8.6z"/><path d="M1132.4,909.0l4.3,8.6h-8.6z"/><path d="M1151.3,913.7l4.3,8.6h-8.6z"/><path d="M1170.1,917.8l4.3,8.6h-8.6z"/></g>
<path d="M547.70,1004.70C553.99,997.93 560.60,992.09 566.56,984.40C573.26,975.77 579.49,965.83 585.42,955.00C592.16,942.70 598.38,929.02 604.28,914.10C611.08,896.93 616.15,874.07 623.14,857.50C628.95,843.75 634.63,829.97 642.00,821.00C647.65,814.13 654.15,808.67 660.87,806.00C666.82,803.64 673.46,804.06 679.73,804.40C686.04,804.74 692.35,806.47 698.59,808.10C704.93,809.76 711.15,812.35 717.45,814.30C723.72,816.24 730.02,817.98 736.31,819.80C742.59,821.62 748.89,823.38 755.17,825.20C761.46,827.02 767.76,828.76 774.03,830.70C780.34,832.65 786.59,834.95 792.89,836.90C799.16,838.84 805.49,840.42 811.75,842.40C818.06,844.39 824.33,846.67 830.62,848.80C836.90,850.93 843.21,852.93 849.48,855.20C855.79,857.49 862.04,860.15 868.34,862.50C874.61,864.84 880.91,867.03 887.20,869.30C893.49,871.57 899.78,873.80 906.06,876.10C912.35,878.40 918.66,880.64 924.92,883.10C931.23,885.57 937.48,888.39 943.78,890.90C950.05,893.39 956.35,895.70 962.64,898.10C968.93,900.50 975.20,902.98 981.50,905.30C987.78,907.61 994.06,909.88 1000.36,912.00C1006.63,914.11 1012.92,916.11 1019.23,918.00C1025.50,919.88 1031.79,921.58 1038.09,923.30C1044.37,925.01 1050.65,926.68 1056.95,928.30C1063.23,929.92 1069.52,931.47 1075.81,933.00C1082.09,934.53 1088.37,936.13 1094.67,937.50C1100.94,938.86 1107.23,940.07 1113.53,941.20C1119.81,942.33 1126.11,943.20 1132.39,944.30C1138.68,945.40 1144.96,946.70 1151.25,947.80C1157.53,948.90 1165.23,950.44 1170.11,950.90C1173.18,951.19 1175.14,951.03 1177.66,951.10" fill="none" stroke="#00AC67" stroke-width="3.2" stroke-linejoin="round"/>
<g fill="#00AC67"><path d="M547.7,1009.3l4.3,-8.6h-8.6z"/><path d="M566.6,988.8l4.3,-8.6h-8.6z"/><path d="M585.4,959.4l4.3,-8.6h-8.6z"/><path d="M604.3,918.5l4.3,-8.6h-8.6z"/><path d="M623.1,861.9l4.3,-8.6h-8.6z"/><path d="M642.0,825.4l4.3,-8.6h-8.6z"/><path d="M660.9,810.4l4.3,-8.6h-8.6z"/><path d="M679.7,808.8l4.3,-8.6h-8.6z"/><path d="M698.6,812.5l4.3,-8.6h-8.6z"/><path d="M717.4,818.7l4.3,-8.6h-8.6z"/><path d="M736.3,824.2l4.3,-8.6h-8.6z"/><path d="M755.2,829.6l4.3,-8.6h-8.6z"/><path d="M774.0,835.1l4.3,-8.6h-8.6z"/><path d="M792.9,841.3l4.3,-8.6h-8.6z"/><path d="M811.8,846.8l4.3,-8.6h-8.6z"/><path d="M830.6,853.2l4.3,-8.6h-8.6z"/><path d="M849.5,859.6l4.3,-8.6h-8.6z"/><path d="M868.3,866.9l4.3,-8.6h-8.6z"/><path d="M887.2,873.7l4.3,-8.6h-8.6z"/><path d="M906.1,880.5l4.3,-8.6h-8.6z"/><path d="M924.9,887.5l4.3,-8.6h-8.6z"/><path d="M943.8,895.3l4.3,-8.6h-8.6z"/><path d="M962.6,902.5l4.3,-8.6h-8.6z"/><path d="M981.5,909.7l4.3,-8.6h-8.6z"/><path d="M1000.4,916.4l4.3,-8.6h-8.6z"/><path d="M1019.2,922.4l4.3,-8.6h-8.6z"/><path d="M1038.1,927.7l4.3,-8.6h-8.6z"/><path d="M1056.9,932.7l4.3,-8.6h-8.6z"/><path d="M1075.8,937.4l4.3,-8.6h-8.6z"/><path d="M1094.7,941.9l4.3,-8.6h-8.6z"/><path d="M1113.5,945.6l4.3,-8.6h-8.6z"/><path d="M1132.4,948.7l4.3,-8.6h-8.6z"/><path d="M1151.3,952.2l4.3,-8.6h-8.6z"/><path d="M1170.1,955.3l4.3,-8.6h-8.6z"/></g>
<path d="M547.70,1004.70C553.99,1001.83 560.49,999.80 566.56,996.10C573.09,992.13 579.30,986.76 585.42,981.30C591.90,975.52 598.30,969.45 604.28,962.20C610.95,954.10 616.49,942.76 623.14,934.60C629.14,927.25 635.24,919.92 642.00,915.10C647.93,910.88 654.42,908.00 660.87,906.30C667.01,904.68 673.45,904.64 679.73,904.80C686.02,904.97 692.30,906.47 698.59,907.30C704.88,908.13 711.16,908.95 717.45,909.80C723.74,910.65 730.02,911.52 736.31,912.40C742.60,913.28 748.89,914.13 755.17,915.10C761.46,916.07 767.74,917.20 774.03,918.20C780.32,919.20 786.60,920.18 792.89,921.10C799.18,922.02 805.47,922.75 811.75,923.70C818.05,924.65 824.34,925.68 830.62,926.80C836.91,927.92 843.18,929.37 849.48,930.40C855.75,931.43 862.06,931.95 868.34,933.00C874.64,934.05 880.91,935.50 887.20,936.70C893.48,937.90 899.78,939.00 906.06,940.20C912.35,941.40 918.64,942.63 924.92,943.90C931.21,945.17 937.49,946.53 943.78,947.80C950.06,949.07 956.35,950.30 962.64,951.50C968.93,952.70 975.23,953.74 981.50,955.00C987.80,956.27 994.06,957.96 1000.36,959.10C1006.63,960.23 1012.94,960.92 1019.23,961.80C1025.51,962.68 1031.80,963.55 1038.09,964.40C1044.37,965.25 1050.66,966.15 1056.95,966.90C1063.23,967.65 1069.52,968.22 1075.81,968.90C1082.10,969.58 1088.38,970.38 1094.67,971.00C1100.95,971.62 1107.25,971.98 1113.53,972.60C1119.82,973.22 1126.10,974.05 1132.39,974.70C1138.68,975.35 1144.96,975.98 1151.25,976.50C1157.54,977.02 1165.24,977.37 1170.11,977.80C1173.20,978.07 1175.14,978.33 1177.66,978.60" fill="none" stroke="#C478E4" stroke-width="3.2" stroke-linejoin="round"/>
<g fill="#C478E4"><path d="M547.7,1000.1l4.4,4.8l-4.4,4.8l-4.4,-4.8z"/><path d="M566.6,991.3l4.4,4.8l-4.4,4.8l-4.4,-4.8z"/><path d="M585.4,976.5l4.4,4.8l-4.4,4.8l-4.4,-4.8z"/><path d="M604.3,957.4l4.4,4.8l-4.4,4.8l-4.4,-4.8z"/><path d="M623.1,929.8l4.4,4.8l-4.4,4.8l-4.4,-4.8z"/><path d="M642.0,910.3l4.4,4.8l-4.4,4.8l-4.4,-4.8z"/><path d="M660.9,901.5l4.4,4.8l-4.4,4.8l-4.4,-4.8z"/><path d="M679.7,900.0l4.4,4.8l-4.4,4.8l-4.4,-4.8z"/><path d="M698.6,902.5l4.4,4.8l-4.4,4.8l-4.4,-4.8z"/><path d="M717.4,905.0l4.4,4.8l-4.4,4.8l-4.4,-4.8z"/><path d="M736.3,907.6l4.4,4.8l-4.4,4.8l-4.4,-4.8z"/><path d="M755.2,910.3l4.4,4.8l-4.4,4.8l-4.4,-4.8z"/><path d="M774.0,913.4l4.4,4.8l-4.4,4.8l-4.4,-4.8z"/><path d="M792.9,916.3l4.4,4.8l-4.4,4.8l-4.4,-4.8z"/><path d="M811.8,918.9l4.4,4.8l-4.4,4.8l-4.4,-4.8z"/><path d="M830.6,922.0l4.4,4.8l-4.4,4.8l-4.4,-4.8z"/><path d="M849.5,925.6l4.4,4.8l-4.4,4.8l-4.4,-4.8z"/><path d="M868.3,928.2l4.4,4.8l-4.4,4.8l-4.4,-4.8z"/><path d="M887.2,931.9l4.4,4.8l-4.4,4.8l-4.4,-4.8z"/><path d="M906.1,935.4l4.4,4.8l-4.4,4.8l-4.4,-4.8z"/><path d="M924.9,939.1l4.4,4.8l-4.4,4.8l-4.4,-4.8z"/><path d="M943.8,943.0l4.4,4.8l-4.4,4.8l-4.4,-4.8z"/><path d="M962.6,946.7l4.4,4.8l-4.4,4.8l-4.4,-4.8z"/><path d="M981.5,950.2l4.4,4.8l-4.4,4.8l-4.4,-4.8z"/><path d="M1000.4,954.3l4.4,4.8l-4.4,4.8l-4.4,-4.8z"/><path d="M1019.2,957.0l4.4,4.8l-4.4,4.8l-4.4,-4.8z"/><path d="M1038.1,959.6l4.4,4.8l-4.4,4.8l-4.4,-4.8z"/><path d="M1056.9,962.1l4.4,4.8l-4.4,4.8l-4.4,-4.8z"/><path d="M1075.8,964.1l4.4,4.8l-4.4,4.8l-4.4,-4.8z"/><path d="M1094.7,966.2l4.4,4.8l-4.4,4.8l-4.4,-4.8z"/><path d="M1113.5,967.8l4.4,4.8l-4.4,4.8l-4.4,-4.8z"/><path d="M1132.4,969.9l4.4,4.8l-4.4,4.8l-4.4,-4.8z"/><path d="M1151.3,971.7l4.4,4.8l-4.4,4.8l-4.4,-4.8z"/><path d="M1170.1,973.0l4.4,4.8l-4.4,4.8l-4.4,-4.8z"/></g>
<rect x="540.00" y="581.80" width="3.00" height="495.00" fill="#000"/>
<rect x="536.00" y="1074.30" width="641.70" height="2.50" fill="#000"/>
<rect x="531.00" y="1003.55" width="10.50" height="2.30" fill="#000"/>
<rect x="535.90" y="933.02" width="5.60" height="2.80" fill="#000"/>
<rect x="531.00" y="862.98" width="10.50" height="2.30" fill="#000"/>
<rect x="535.90" y="792.45" width="5.60" height="2.80" fill="#000"/>
<rect x="531.00" y="722.42" width="10.50" height="2.30" fill="#000"/>
<rect x="535.90" y="651.88" width="5.60" height="2.80" fill="#000"/>
<rect x="531.00" y="581.85" width="10.50" height="2.30" fill="#000"/>
<rect x="546.25" y="1075.55" width="2.90" height="10.15" fill="#000"/>
<rect x="703.42" y="1075.55" width="2.90" height="5.45" fill="#000"/>
<rect x="860.60" y="1075.55" width="2.90" height="10.15" fill="#000"/>
<rect x="1017.78" y="1075.55" width="2.90" height="5.45" fill="#000"/>
<rect x="1174.95" y="1075.55" width="2.90" height="10.15" fill="#000"/>
<text transform="translate(488.50,1016.70) scale(0.945,1)" font-size="38.5">20</text>
<text transform="translate(488.50,876.13) scale(0.945,1)" font-size="38.5">40</text>
<text transform="translate(488.50,735.57) scale(0.945,1)" font-size="38.5">60</text>
<text transform="translate(488.50,595.00) scale(0.945,1)" font-size="38.5">80</text>
<text transform="translate(515.52,1122.00) scale(0.9419,1)" font-size="38.5" fill="#000" >0.00</text>
<text transform="translate(829.87,1122.00) scale(0.9425,1)" font-size="38.5" fill="#000" >0.05</text>
<text transform="translate(1144.22,1122.00) scale(0.9419,1)" font-size="38.5" fill="#000" >0.10</text>
<text transform="translate(1033.28,1176.20) scale(0.9764,1)" font-size="37.3" fill="#000" >enlarged</text>
<path d="M1065.7,1217.8L960,1129.9" stroke="#FF0000" stroke-width="5.6" stroke-dasharray="28 23.5" fill="none"/>
<path d="M922,1098.3L964.3,1118.1L950,1135.8z" fill="#FF0000"/>
</svg>
</body>
</html>
